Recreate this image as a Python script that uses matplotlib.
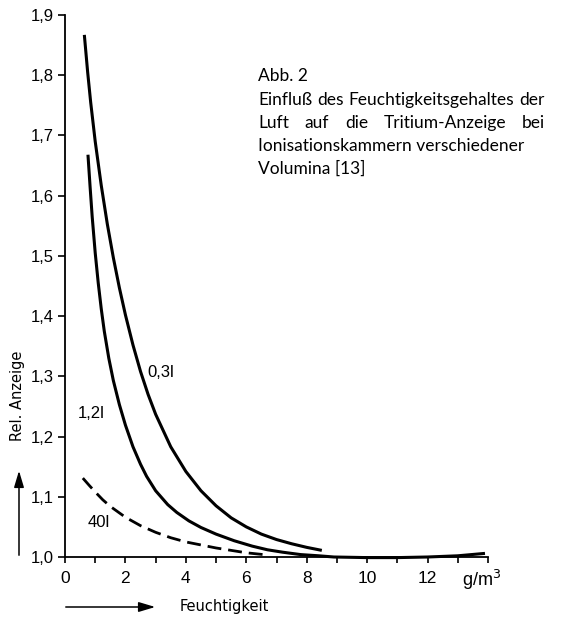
import matplotlib
matplotlib.use("Agg")
import matplotlib.pyplot as plt
from matplotlib.patches import FancyArrowPatch

# ---- data ----
x_03 = [0.64, 0.75, 0.85, 1.0, 1.2, 1.4, 1.6, 1.8, 2.0, 2.25, 2.5, 2.75, 3.0, 3.5, 4.0, 4.5,
        5.0, 5.5, 6.0, 6.5, 7.0, 7.5, 8.0, 8.5]
y_03 = [1.867, 1.805, 1.755, 1.690, 1.617, 1.553, 1.497, 1.447, 1.402, 1.352, 1.308, 1.270,
        1.237, 1.183, 1.142, 1.110, 1.085, 1.065, 1.050, 1.038, 1.029, 1.022, 1.016, 1.011]

x_12 = [0.76, 0.83, 0.90, 1.0, 1.1, 1.2, 1.3, 1.45, 1.6, 1.8, 2.0, 2.25, 2.5, 2.7, 3.0, 3.4,
        3.7, 4.1, 4.5, 5.0, 5.6, 6.2, 6.7, 7.2, 7.8, 8.4, 8.9, 10, 11, 12, 13, 13.9]
y_12 = [1.668, 1.615, 1.565, 1.505, 1.455, 1.412, 1.375, 1.330, 1.293, 1.253, 1.219, 1.183,
        1.154, 1.134, 1.110, 1.087, 1.074, 1.060, 1.049, 1.038, 1.027, 1.018, 1.012, 1.008,
        1.004, 1.002, 1.000, 0.999, 0.999, 1.000, 1.002, 1.006]

x_40 = [0.59, 0.8, 1.0, 1.25, 1.5, 2.0, 2.5, 3.0, 3.5, 4.0, 4.5, 5.0, 5.5, 6.0, 6.57]
y_40 = [1.131, 1.119, 1.108, 1.095, 1.084, 1.066, 1.052, 1.041, 1.032, 1.025, 1.020, 1.015,
        1.011, 1.007, 1.004]

x_ticks = list(range(0, 15))
x_ticklabels = [str(v) if v % 2 == 0 and v < 14 else "" for v in x_ticks]
y_ticks = [1.0, 1.1, 1.2, 1.3, 1.4, 1.5, 1.6, 1.7, 1.8, 1.9]
y_ticklabels = ["1,0", "1,1", "1,2", "1,3", "1,4", "1,5", "1,6", "1,7", "1,8", "1,9"]

curve_labels = ["0,3l", "1,2l", "40l"]
label_pos = [(2.72, 1.307), (0.43, 1.239), (0.76, 1.058)]

caption_title = "Abb. 2"
caption_lines = [
    "Einfluß des Feuchtigkeitsgehaltes der",
    "Luft auf die Tritium-Anzeige bei",
    "Ionisationskammern verschiedener",
    "Volumina [13]",
]

# ---- figure ----
W, H = 568, 618
fig = plt.figure(figsize=(W / 100, H / 100), dpi=100)
tick_font = ["Liberation Sans", "DejaVu Sans"]
ax = fig.add_axes([65 / W, 1 - 557 / H, 423 / W, 542 / H])

ax.plot(x_03, y_03, color="black", lw=2.2, solid_capstyle="butt", solid_joinstyle="round", clip_on=False)
ax.plot(x_12, y_12, color="black", lw=2.2, solid_capstyle="butt", solid_joinstyle="round", clip_on=False)
ax.plot(x_40, y_40, color="black", lw=2.0, linestyle=(0, (5, 2.5)), clip_on=False)

ax.set_xlim(0, 14)
ax.set_ylim(1.0, 1.9)
for s in ["top", "right"]:
    ax.spines[s].set_visible(False)
for s in ["left", "bottom"]:
    ax.spines[s].set_linewidth(1.3)

ax.set_xticks(x_ticks)
ax.set_xticklabels(x_ticklabels, fontsize=12.5, family=tick_font)
ax.set_yticks(y_ticks)
ax.set_yticklabels(y_ticklabels, fontsize=12, family=tick_font)
ax.tick_params(axis="x", direction="out", length=4, width=1.2, pad=6)
ax.tick_params(axis="y", direction="out", length=5, width=1.2, pad=3)

for txt, (tx, ty) in zip(curve_labels, label_pos):
    ax.text(tx, ty, txt, fontsize=12, family=tick_font, va="center", ha="left")

# unit label
fig.text(462 / W, 1 - 586 / H, r"g/m$^3$", fontsize=13, family=tick_font, ha="left", va="baseline")

# axis titles with arrows
fig.text(18 / W, 1 - 396 / H, "Rel. Anzeige", rotation=90, fontsize=10.5,
         family="DejaVu Sans", ha="center", va="center")
fig.text(180 / W, 1 - 607 / H, "Feuchtigkeit", fontsize=10.5,
         family="DejaVu Sans", ha="left", va="center")

arr_y = FancyArrowPatch((19 / W, 1 - 558 / H), (19 / W, 1 - 468 / H),
                        transform=fig.transFigure, arrowstyle="-|>,head_length=1.0,head_width=0.3",
                        mutation_scale=10, color="black", lw=1.1)
fig.add_artist(arr_y)
arr_x = FancyArrowPatch((63 / W, 1 - 607 / H), (158 / W, 1 - 607 / H),
                        transform=fig.transFigure, arrowstyle="-|>,head_length=1.0,head_width=0.3",
                        mutation_scale=10, color="black", lw=1.1)
fig.add_artist(arr_x)

# caption block
cap_font = "Lato"
cap_size = 12.5
left_px, right_px = 258, 545
fig.text(left_px / W, 1 - 81 / H, caption_title, fontsize=cap_size, family=cap_font, va="baseline")
baselines = [105, 128, 151, 174]
fig.canvas.draw()
renderer = fig.canvas.get_renderer()
for i, (line, by) in enumerate(zip(caption_lines, baselines)):
    words = line.split(" ")
    if i < 2:
        arts = [fig.text(0, 1 - by / H, w, fontsize=cap_size, family=cap_font, va="baseline") for w in words]
        widths = [a.get_window_extent(renderer).width for a in arts]
        gap = (right_px - left_px - sum(widths)) / (len(words) - 1)
        xpos = left_px
        for a, wd in zip(arts, widths):
            a.set_x(xpos / W)
            xpos += wd + gap
    else:
        fig.text(left_px / W, 1 - by / H, line, fontsize=cap_size, family=cap_font, va="baseline")

fig.savefig("out.png", dpi=100)
